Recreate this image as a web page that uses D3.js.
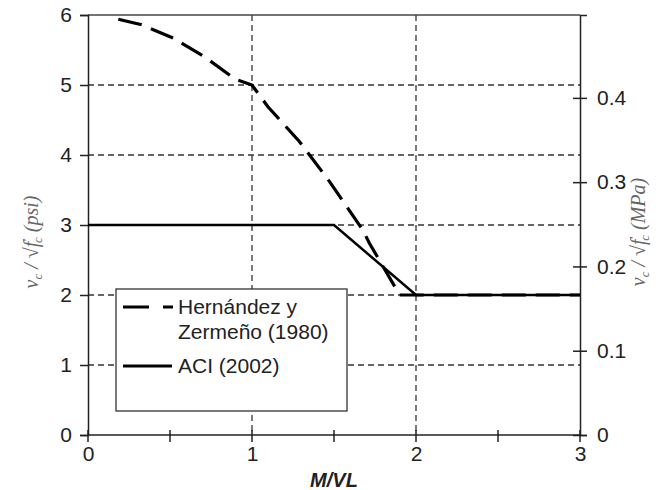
<!DOCTYPE html>
<html><head><meta charset="utf-8">
<script src="https://cdn.jsdelivr.net/npm/d3@7"></script>
<style>html,body{margin:0;padding:0;background:#fff;overflow:hidden}</style>
</head><body>
<svg id="chart" width="656" height="490"></svg>
<script>
// ---- data ----
const xTicks = [0, 1, 2, 3];
const xMinorTicks = [0.5, 1.5, 2.5];
const yTicks = [0, 1, 2, 3, 4, 5, 6];
const yRightTicks = [0, 0.1, 0.2, 0.3, 0.4];
const yRightTickLabels = ["0", "0.1", "0.2", "0.3", "0.4"];
const psiPerMPa = 12.04;
const hzX = [0.185, 0.327, 0.52, 0.712, 0.90, 1.0, 1.097, 1.29, 1.473, 1.675, 1.716, 1.888, 1.9, 3.0];
const hzY = [5.94, 5.86, 5.67, 5.40, 5.08, 5.0, 4.69, 4.19, 3.62, 2.93, 2.74, 2.05, 2.0, 2.0];
const aciX = [0, 1.5, 2, 3];
const aciY = [3, 3, 2, 2];
const legendLabels = [["Hernández y", "Zermeño (1980)"], ["ACI (2002)"]];

// ---- layout ----
const svg = d3.select("#chart");
const L = 88, R = 580, T = 15, B = 435;
const x = d3.scaleLinear().domain([0, 3]).range([L, R]);
const y = d3.scaleLinear().domain([0, 6]).range([B, T]);
const y2 = d3.scaleLinear().domain([0, 6 / psiPerMPa]).range([B, T]);
const font = "'Liberation Sans', Arial, sans-serif";
const axisColor = "#222";

// grid
const grid = svg.append("g").attr("stroke", "#333").attr("stroke-width", 1.3).attr("stroke-dasharray", "6,4");
grid.selectAll("line.h").data(yTicks.filter(d => d > 0 && d < 6)).join("line")
  .attr("x1", L).attr("x2", R).attr("y1", d => y(d)).attr("y2", d => y(d));
grid.selectAll("line.v").data(xTicks.filter(d => d > 0 && d < 3)).join("line")
  .attr("x1", d => x(d)).attr("x2", d => x(d)).attr("y1", T).attr("y2", B);

// top border
svg.append("line").attr("x1", L).attr("x2", R).attr("y1", T).attr("y2", T)
  .attr("stroke", "#444").attr("stroke-width", 1.5);

// axes
const gx = svg.append("g").attr("transform", `translate(0,${B})`)
  .call(d3.axisBottom(x).tickValues(xTicks).tickSize(0).tickFormat(d3.format("d")));
gx.select(".domain").remove();
gx.selectAll("text").attr("font-family", font).attr("font-size", 21).attr("fill", "#222").attr("dy", "1.1em");
svg.append("line").attr("x1", L).attr("x2", R).attr("y1", B).attr("y2", B).attr("stroke", axisColor).attr("stroke-width", 1.5);
svg.append("g").selectAll("line").data(xTicks.concat(xMinorTicks)).join("line")
  .attr("x1", d => x(d)).attr("x2", d => x(d)).attr("y1", B - 5).attr("y2", B + 7)
  .attr("stroke", axisColor).attr("stroke-width", 1.5);

const gy = svg.append("g").attr("transform", `translate(${L},0)`)
  .call(d3.axisLeft(y).tickValues(yTicks).tickSize(8).tickPadding(8).tickFormat(d3.format("d")));
gy.select(".domain").attr("stroke", axisColor).attr("stroke-width", 1.5);
gy.selectAll(".tick line").attr("stroke", axisColor).attr("stroke-width", 1.5);
gy.selectAll("text").attr("font-family", font).attr("font-size", 21).attr("fill", "#222");

const gy2 = svg.append("g").attr("transform", `translate(${R},0)`)
  .call(d3.axisRight(y2).tickValues(yRightTicks).tickSize(7).tickPadding(10)
    .tickFormat((d, i) => yRightTickLabels[i]));
gy2.select(".domain").attr("stroke", axisColor).attr("stroke-width", 1.5);
gy2.selectAll(".tick line").attr("x1", -7).attr("stroke", axisColor).attr("stroke-width", 1.5);
gy2.selectAll("text").attr("font-family", font).attr("font-size", 21).attr("fill", "#222");

// lines
const line = d3.line().x(d => x(d[0])).y(d => y(d[1]));
svg.append("path").datum(aciX.map((v, i) => [v, aciY[i]]))
  .attr("d", line).attr("fill", "none").attr("stroke", "#000").attr("stroke-width", 2.5);
svg.append("path").datum(hzX.map((v, i) => [v, hzY[i]]))
  .attr("d", line).attr("fill", "none").attr("stroke", "#000").attr("stroke-width", 3.2)
  .attr("stroke-dasharray", "24,10");

// legend
const lg = svg.append("g");
lg.append("rect").attr("x", 116).attr("y", 289).attr("width", 231).attr("height", 122)
  .attr("fill", "#fff").attr("stroke", "#333").attr("stroke-width", 1.3);
lg.append("line").attr("x1", 123).attr("x2", 173).attr("y1", 307).attr("y2", 307)
  .attr("stroke", "#000").attr("stroke-width", 3.2).attr("stroke-dasharray", "26,14");
lg.append("line").attr("x1", 123).attr("x2", 172).attr("y1", 366).attr("y2", 366)
  .attr("stroke", "#000").attr("stroke-width", 2.8);
const t1 = lg.append("text").attr("x", 178).attr("font-family", font).attr("font-size", 21).attr("fill", "#222");
t1.append("tspan").attr("x", 178).attr("y", 314).text(legendLabels[0][0]);
t1.append("tspan").attr("x", 178).attr("y", 339).text(legendLabels[0][1]);
lg.append("text").attr("x", 178).attr("y", 373).attr("font-family", font).attr("font-size", 21)
  .attr("fill", "#222").text(legendLabels[1][0]);

// axis titles
svg.append("text").attr("x", (L + R) / 2).attr("y", 487).attr("text-anchor", "middle")
  .attr("font-family", font).attr("font-size", 20).attr("font-weight", "bold").attr("font-style", "italic")
  .attr("fill", "#222").text("M/VL");

function yTitle(cx, cy, unit) {
  const t = svg.append("text").attr("transform", `translate(${cx},${cy}) rotate(-90)`)
    .attr("text-anchor", "middle").attr("font-family", "'Liberation Serif', serif")
    .attr("font-style", "italic").attr("font-size", 20).attr("fill", "#666");
  t.append("tspan").text("v");
  t.append("tspan").attr("font-size", 13).attr("dy", 4).text("c");
  t.append("tspan").attr("dy", -4).text(" / √");
  t.append("tspan").text("f");
  t.append("tspan").attr("font-size", 12).attr("dy", -7).text("′");
  t.append("tspan").attr("font-size", 13).attr("dx", -4).attr("dy", 11).text("c");
  t.append("tspan").attr("dy", -4).text(` (${unit})`);
}
yTitle(38, 242, "psi");
yTitle(645, 232, "MPa");
</script>
</body></html>
